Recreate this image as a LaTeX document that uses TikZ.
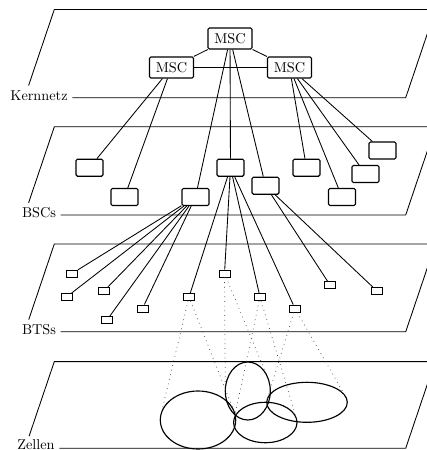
\documentclass[tikz,border=0pt]{standalone}
\usetikzlibrary{shapes.geometric}

\begin{document}
\begin{tikzpicture}[x=0.7pt,y=-0.7pt,line width=0.6pt,
  msc/.style={draw,line width=0.8pt,rounded corners=1pt,inner sep=0pt,minimum width=30.8pt,minimum height=14.7pt},
  bsc/.style={draw,line width=0.8pt,rounded corners=1pt,inner sep=0pt,minimum width=18.9pt,minimum height=11.9pt},
  bts/.style={draw,line width=0.65pt,inner sep=0pt,minimum width=7.7pt,minimum height=4.9pt},
  cell/.style={draw,ellipse,line width=0.8pt,inner sep=0pt,outer sep=0pt},
  beam/.style={line width=0.5pt,dash pattern=on 0.5pt off 2.8pt,black!75},
  layer/.style={inner sep=3pt,anchor=base}]
\useasboundingbox (0,0) rectangle (427,450);

% Ebenen
\foreach \ptop/\pbot/\px/\pdy/\ptext in {9.5/97.7/39/2.4/Kernnetz,126.8/215/39/2.4/BSCs,
  244/331.8/39/2.4/BTSs,361.6/448.3/36/0.8/Zellen}{
  \node[layer] (lbl) at (\px,\pbot+\pdy) {\ptext};
  \draw[shorten >=9pt] (lbl.east |- 0,\pbot) -- (405.7,\pbot) -- ({405.7+0.338*(\pbot-\ptop)},\ptop)
    -- (54.3,\ptop) -- ({54.3-0.338*(\pbot-\ptop)},\pbot);
}

% MSCs
\node[msc] (msc) at (230,38.5) {MSC};
\node[msc] (mscl) at (171.5,67.5) {MSC};
\node[msc] (mscr) at (289.5,67.5) {MSC};

% BSCs
\foreach \name/\px/\py in {bsc1/89.5/167.7,bsc2/124.5/197,bsc3/195.5/197,bsc4/230.5/167.7,bsc5/265.5/185.7,
  bsc6/306.5/167.7,bsc7/342/197,bsc8/365.5/174,bsc9/382.5/150.5}
  \node[bsc] (\name) at (\px,\py) {};

% BTSs
\foreach \name/\px/\py in {bts1/72/273.5,bts2/66.5/297,bts3/104/291,bts4/107/320,bts5/142.5/308.5,bts6/189/297,
  bts7/224.5/273.5,bts8/260/297,bts9/295/308.5,bts10/330/285,bts11/377/291}
  \node[bts] (\name) at (\px,\py) {};

% Zellen
\node[cell,minimum width=52.8pt,minimum height=40.6pt] (cell1) at (198,420) {};
\node[cell,minimum width=31.5pt,minimum height=40.6pt] (cell2) at (247.8,391) {};
\node[cell,minimum width=56.4pt,minimum height=28pt] (cell3) at (307,402.3) {};
\node[cell,minimum width=44.4pt,minimum height=28.3pt] (cell4) at (265.3,422.5) {};

% Verbindungen
\foreach \from/\to in {msc/mscl,msc/mscr,mscl/mscr,mscl/bsc1,mscl/bsc2,msc/bsc3,msc/bsc4,msc/bsc5,
  mscr/bsc6,mscr/bsc7,mscr/bsc8,mscr/bsc9,bsc3/bts1,bsc3/bts2,bsc3/bts3,bsc3/bts4,bsc3/bts5,
  bsc4/bts6,bsc4/bts7,bsc4/bts8,bsc4/bts9,bsc5/bts10,bsc5/bts11}
  \draw (\from) -- (\to);

% Funkversorgung
\foreach \from/\to in {bts6/cell1.172,bts6/cell1.13,bts7/cell2.180,bts7/cell2.35,
  bts8/cell4.175,bts8/cell4.7,bts9/cell3.176,bts9/cell3.8}
  \draw[beam] (\from) -- (\to);
\end{tikzpicture}
\end{document}
